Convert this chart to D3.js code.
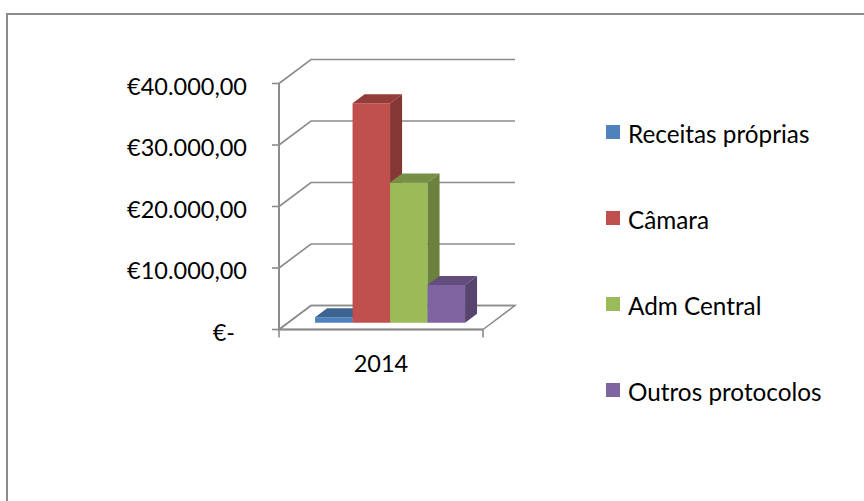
<!DOCTYPE html>
<html>
<head>
<meta charset="utf-8">
<script src="https://cdn.jsdelivr.net/npm/d3@7"></script>
<style>
  html, body { margin: 0; padding: 0; background: #fff; }
  svg { display: block; }
  text { font-family: Lato, "Open Sans", sans-serif; fill: #000; }
</style>
</head>
<body>
<svg id="chart" width="864" height="501"></svg>
<script>
// ---- data ----
const categories = ["2014"];
const seriesNames = ["Receitas próprias", "Câmara", "Adm Central", "Outros protocolos"];
const seriesValues = [900, 35700, 22800, 6150];
const seriesColors = ["#4f81bd", "#c0504d", "#9bbb59", "#8064a2"];
const tickValues = [0, 10000, 20000, 30000, 40000];
const tickLabels = ["€-", "€10.000,00", "€20.000,00", "€30.000,00", "€40.000,00"];

// ---- layout ----
const svg = d3.select("#chart");
const W = 864, H = 501;
const X0 = 279, X1 = 483;          // front floor edge
const DX = 32, DY = -24;           // depth offset of back wall
const Z0 = 0.283, Z1 = 0.658;      // bar depth range
const gridColor = "#8c8c8c";

const y = d3.scaleLinear().domain([0, 40000]).range([329.5, 83.5]);
const xCat = d3.scaleBand().domain(categories).range([X0, X1]);
const xSer = d3.scaleBand().domain(seriesNames)
  .range([xCat(categories[0]), xCat(categories[0]) + xCat.bandwidth()])
  .paddingInner(0).paddingOuter(0.72);

const P = (x, v, z) => [x + z * DX, y(v) + z * DY];
const poly = pts => "M" + pts.map(p => p.join(",")).join("L") + "Z";

// chart border
svg.append("rect").attr("x", 7).attr("y", 14).attr("width", W + 20).attr("height", H + 20)
  .attr("fill", "none").attr("stroke", gridColor).attr("stroke-width", 2);

const g = svg.append("g");

// floor
g.append("path")
  .attr("d", poly([P(X0, 0, 0), P(X1, 0, 0), P(X1, 0, 1), P(X0, 0, 1)]))
  .attr("fill", "#fff").attr("stroke", gridColor).attr("stroke-width", 1.5);

// gridlines: left wall diagonals + back wall lines
tickValues.forEach(t => {
  const a = P(X0, t, 0), b = P(X0, t, 1), c = P(X1, t, 1);
  g.append("path").attr("d", `M${a}L${b}L${c}`)
    .attr("fill", "none").attr("stroke", gridColor).attr("stroke-width", 1.6);
});

// value axis front line + ticks
g.append("line").attr("x1", X0).attr("x2", X0).attr("y1", y(0)).attr("y2", y(40000))
  .attr("stroke", gridColor).attr("stroke-width", 2);
tickValues.forEach(t => {
  g.append("line").attr("x1", X0 - 7).attr("x2", X0).attr("y1", y(t)).attr("y2", y(t))
    .attr("stroke", gridColor).attr("stroke-width", 1.6);
});
// category axis front line + ticks
g.append("line").attr("x1", X0).attr("x2", X1).attr("y1", y(0)).attr("y2", y(0))
  .attr("stroke", gridColor).attr("stroke-width", 2);
[X0, X1].forEach(x => {
  g.append("line").attr("x1", x).attr("x2", x).attr("y1", y(0)).attr("y2", y(0) + 8)
    .attr("stroke", gridColor).attr("stroke-width", 1.6);
});

// tick labels
tickValues.forEach((t, i) => {
  g.append("text")
    .attr("x", t === 0 ? 235 : 247)
    .attr("y", y(t) + 2)
    .attr("text-anchor", "end")
    .attr("dominant-baseline", "central")
    .style("font-size", "23.5px")
    .text(tickLabels[i]);
});

// category label
categories.forEach(c => {
  g.append("text")
    .attr("x", xCat(c) + xCat.bandwidth() / 2)
    .attr("y", 371.5)
    .attr("text-anchor", "middle")
    .style("font-size", "23.5px")
    .text(c);
});

// bars
seriesNames.forEach((s, i) => {
  const v = seriesValues[i];
  const xl = xSer(s), xr = xl + xSer.bandwidth();
  const col = d3.color(seriesColors[i]);
  const bg = g.append("g");
  bg.append("path").attr("d", poly([P(xl, 0, Z0), P(xr, 0, Z0), P(xr, v, Z0), P(xl, v, Z0)]))
    .attr("fill", col.formatHex());
  bg.append("path").attr("d", poly([P(xl, v, Z0), P(xr, v, Z0), P(xr, v, Z1), P(xl, v, Z1)]))
    .attr("fill", col.darker(0.75).formatHex());
  bg.append("path").attr("d", poly([P(xr, 0, Z0), P(xr, v, Z0), P(xr, v, Z1), P(xr, 0, Z1)]))
    .attr("fill", col.darker(1.05).formatHex());
});

// legend
const ly = d3.scalePoint().domain(seriesNames).range([132, 390]);
seriesNames.forEach((s, i) => {
  svg.append("rect").attr("x", 606).attr("y", ly(s) - 7).attr("width", 14).attr("height", 14)
    .attr("fill", seriesColors[i]);
  svg.append("text").attr("x", 628).attr("y", ly(s) + 1)
    .attr("dominant-baseline", "central")
    .style("font-size", "24.3px")
    .text(s);
});
</script>
</body>
</html>
